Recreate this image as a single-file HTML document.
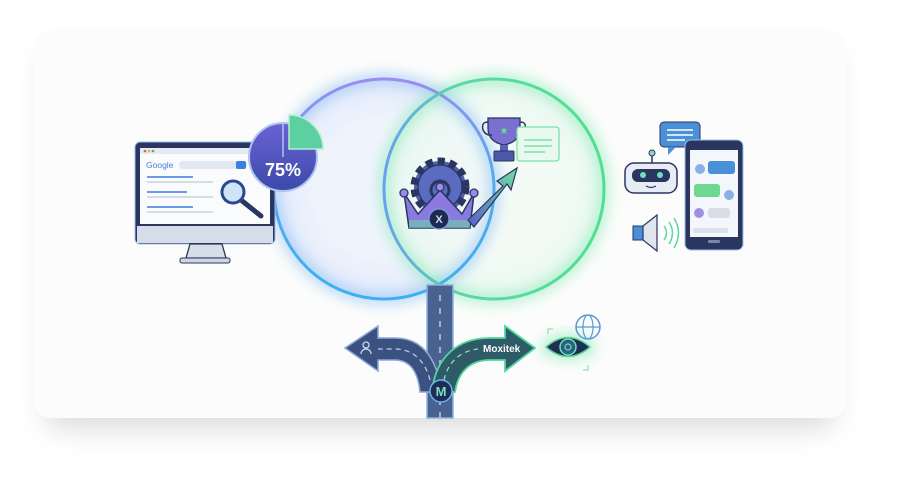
<!DOCTYPE html>
<html><head><meta charset="utf-8"><style>
html,body{margin:0;padding:0;background:#fff;width:920px;height:498px;overflow:hidden}
svg{display:block}
</style></head><body>
<svg width="920" height="498" viewBox="0 0 920 498" xmlns="http://www.w3.org/2000/svg" font-family="Liberation Sans, sans-serif">
<defs>
<filter id="sh" x="-10%" y="-10%" width="120%" height="140%"><feGaussianBlur stdDeviation="14"/></filter>
<filter id="gl" x="-30%" y="-30%" width="160%" height="160%"><feGaussianBlur stdDeviation="6"/></filter>
<radialGradient id="lf" cx="0.5" cy="0.5" r="0.5"><stop offset="0.6" stop-color="#eef3fc"/><stop offset="1" stop-color="#dfe8fb"/></radialGradient>
<radialGradient id="rf" cx="0.5" cy="0.5" r="0.5"><stop offset="0.6" stop-color="#f1faf5"/><stop offset="1" stop-color="#e2f7ec"/></radialGradient>
<linearGradient id="lc" x1="0" y1="0" x2="0" y2="1"><stop offset="0" stop-color="#9a8cf0"/><stop offset="0.4" stop-color="#5aa8f0"/><stop offset="1" stop-color="#3cb0f0"/></linearGradient>
<linearGradient id="rc" x1="0" y1="0" x2="1" y2="0"><stop offset="0" stop-color="#6aa0f0"/><stop offset="0.35" stop-color="#5cd8a8"/><stop offset="1" stop-color="#4fe08f"/></linearGradient>
<linearGradient id="pie" x1="0" y1="0" x2="0" y2="1"><stop offset="0" stop-color="#6a62d6"/><stop offset="1" stop-color="#3c4aa8"/></linearGradient>
<linearGradient id="arr" x1="0" y1="1" x2="1" y2="0"><stop offset="0" stop-color="#5c5ec8"/><stop offset="1" stop-color="#6ee0a0"/></linearGradient>
</defs>
<rect x="44" y="50" width="792" height="380" rx="18" fill="#000" opacity="0.13" filter="url(#sh)"/>
<rect x="34" y="30" width="812" height="388" rx="16" fill="#fbfcfb"/>
<!-- circles -->
<circle cx="384" cy="189" r="110" fill="url(#lf)" opacity="0.9"/>
<circle cx="494" cy="189" r="110" fill="url(#rf)" opacity="0.8"/>
<circle cx="384" cy="189" r="110" fill="none" stroke="#7fb8f5" stroke-width="12" opacity="0.5" filter="url(#gl)"/>
<circle cx="494" cy="189" r="110" fill="none" stroke="#7ee8b0" stroke-width="12" opacity="0.5" filter="url(#gl)"/>
<circle cx="384" cy="189" r="110" fill="none" stroke="url(#lc)" stroke-width="3"/>
<circle cx="494" cy="189" r="110" fill="none" stroke="url(#rc)" stroke-width="3"/>
<!-- road vertical -->
<rect x="427" y="285" width="26" height="133" fill="#4a6290"/>
<rect x="427" y="285" width="26" height="133" fill="none" stroke="#8fb0e0" stroke-width="1.5"/>
<line x1="440" y1="295" x2="440" y2="418" stroke="#b8cbe8" stroke-width="1.5" stroke-dasharray="6 7"/>
<!-- left arrow -->
<path d="M442 392 C437 362 425 338 395 338 L378 338 L378 326 L345 348 L378 371 L378 360 L395 360 C410 360 418 372 420 392 Z" fill="#3b5180" stroke="#8fa8d8" stroke-width="1.5"/>
<path d="M430 380 C425 360 412 349 395 349 L378 349" fill="none" stroke="#c0d0ea" stroke-width="1.2" stroke-dasharray="5 4"/>
<circle cx="366" cy="345" r="3" fill="none" stroke="#c8d8f0" stroke-width="1.3"/>
<path d="M361 354 a5 5 0 0 1 10 0" fill="none" stroke="#c8d8f0" stroke-width="1.3"/>
<!-- right arrow -->
<path d="M432 392 C435 360 455 338 490 338 L505 338 L505 326 L535 348 L505 371 L505 360 L490 360 C470 360 458 372 455 392 Z" fill="#2f5a68" stroke="#4fd89a" stroke-width="1.8"/>
<text x="483" y="352" font-size="10" font-weight="bold" fill="#fff">Moxitek</text>
<path d="M444 380 C448 362 460 351 478 349" fill="none" stroke="#9fe0c0" stroke-width="1.2" stroke-dasharray="5 4"/>
<circle cx="441" cy="391" r="11" fill="#1e2d55" stroke="#6fb0e8" stroke-width="1.5"/>
<text x="441" y="396" font-size="13" font-weight="bold" fill="#7ee0c0" text-anchor="middle">M</text>
<!-- eye -->
<ellipse cx="568" cy="347" rx="28" ry="14" fill="#7ee8b0" opacity="0.5" filter="url(#gl)"/>
<path d="M546 347 Q568 328 590 347 Q568 366 546 347 Z" fill="#1f2e55" stroke="#5fd0a0" stroke-width="1.5"/>
<circle cx="568" cy="347" r="8" fill="#2c5c8a" stroke="#6ee0a0" stroke-width="1.5"/>
<circle cx="568" cy="347" r="3" fill="none" stroke="#6ee0a0" stroke-width="1.2"/>
<circle cx="588" cy="327" r="12" fill="none" stroke="#5a9ad8" stroke-width="1.5"/>
<ellipse cx="588" cy="327" rx="5" ry="12" fill="none" stroke="#5a9ad8" stroke-width="1.2"/>
<line x1="576" y1="327" x2="600" y2="327" stroke="#5a9ad8" stroke-width="1.2"/>
<path d="M548 334 v-5 h5 M588 365 v5 h-5" fill="none" stroke="#8ee0b8" stroke-width="1.3"/>
<!-- monitor -->
<rect x="135" y="142" width="140" height="102" rx="5" fill="#2a3560" stroke="#9cc0ee" stroke-width="1"/>
<rect x="140" y="148" width="130" height="76" fill="#fafbfd"/>
<rect x="140" y="148" width="130" height="6" fill="#e4e9f2"/>
<circle cx="145" cy="151" r="1.3" fill="#e06050"/><circle cx="149" cy="151" r="1.3" fill="#e8b040"/><circle cx="153" cy="151" r="1.3" fill="#50b060"/>
<text x="146" y="168" font-size="8.5" fill="#4a80d8">Google</text>
<rect x="179" y="161" width="68" height="8" rx="4" fill="#e2e8f2"/>
<rect x="236" y="161" width="10" height="8" rx="2" fill="#3a80e0"/>
<g stroke-width="1.5"><line x1="147" y1="177" x2="193" y2="177" stroke="#3a7ce0"/><line x1="147" y1="182" x2="213" y2="182" stroke="#c8d2e0"/>
<line x1="147" y1="192" x2="187" y2="192" stroke="#3a7ce0"/><line x1="147" y1="197" x2="213" y2="197" stroke="#c8d2e0"/>
<line x1="147" y1="207" x2="193" y2="207" stroke="#3a7ce0"/><line x1="147" y1="212" x2="213" y2="212" stroke="#c8d2e0"/></g>
<rect x="137" y="226" width="136" height="17" fill="#d6dce8"/>
<path d="M190 244 L222 244 L226 258 L186 258 Z" fill="#d8dee8" stroke="#2a3560" stroke-width="1.3"/>
<rect x="180" y="258" width="50" height="5" rx="2" fill="#cfd6e2" stroke="#2a3560" stroke-width="1"/>
<line x1="241" y1="200" x2="261" y2="216" stroke="#2a3560" stroke-width="5" stroke-linecap="round"/>
<circle cx="233" cy="192" r="11" fill="#cfe4fa" stroke="#2a4a90" stroke-width="3"/>
<!-- pie -->
<circle cx="283" cy="157" r="34" fill="url(#pie)" stroke="#b0c4f0" stroke-width="2"/>
<path d="M289 115 A34 34 0 0 1 323 149 L289 149 Z" fill="#5cd0a0" stroke="#b8eed0" stroke-width="1.5"/>
<path d="M283 157 L283 123" stroke="#b0c4f0" stroke-width="1.5"/>
<text x="283" y="176" font-size="18" font-weight="bold" fill="#fff" text-anchor="middle">75%</text>
<!-- gear crown -->
<circle cx="440" cy="187" r="26" fill="#4d5fae" stroke="#2a3560" stroke-width="7" stroke-dasharray="7 5"/>
<circle cx="440" cy="187" r="22" fill="#5a6cc0" stroke="#2a3560" stroke-width="1.3"/>
<circle cx="440" cy="190" r="9" fill="none" stroke="#2a3560" stroke-width="3"/>
<path d="M404 193 L418 214 L440 190 L462 214 L474 193 L470 228 L409 228 Z" fill="#8a7ae0" stroke="#2a3560" stroke-width="1.5"/>
<rect x="409" y="220" width="61" height="8" fill="#6fd0a8" opacity="0.6"/>
<circle cx="404" cy="193" r="4" fill="#9a8ae8" stroke="#2a3560" stroke-width="1.3"/>
<circle cx="440" cy="187" r="4" fill="#9a8ae8" stroke="#2a3560" stroke-width="1.3"/>
<circle cx="474" cy="193" r="4" fill="#9a8ae8" stroke="#2a3560" stroke-width="1.3"/>
<circle cx="439" cy="219" r="10" fill="#1e2a50" stroke="#7aa0e0" stroke-width="1.3"/>
<text x="439" y="223" font-size="11" font-weight="bold" fill="#d0d8f0" text-anchor="middle">X</text>
<path d="M468 220 L503 186 L497 181 L517 168 L511 190 L507 184 L474 227 Z" fill="url(#arr)" stroke="#2a3560" stroke-width="1.2"/>
<!-- trophy -->
<path d="M488 118 H520 V128 Q520 142 504 145 Q488 142 488 128 Z" fill="#7a70d0" stroke="#2a3560" stroke-width="1.3"/>
<path d="M488 122 Q481 122 483 130 Q486 136 492 135 M520 122 Q527 122 525 130 Q522 136 516 135" fill="none" stroke="#2a3560" stroke-width="1.5"/>
<text x="504" y="134" font-size="10" fill="#60e090" text-anchor="middle">★</text>
<rect x="500" y="145" width="8" height="6" fill="#5a62b8"/>
<rect x="494" y="151" width="20" height="10" rx="1" fill="#4a5aa8" stroke="#2a3560" stroke-width="1"/>
<rect x="517" y="127" width="42" height="34" rx="3" fill="#e8faf0" stroke="#7ee0a8" stroke-width="1.3"/>
<g stroke="#7ee0a8" stroke-width="1.5"><line x1="524" y1="140" x2="552" y2="140"/><line x1="524" y1="146" x2="552" y2="146"/><line x1="524" y1="152" x2="545" y2="152"/></g>
<!-- robot -->
<rect x="660" y="122" width="40" height="25" rx="4" fill="#4a90d8" stroke="#2a3560" stroke-width="1"/>
<path d="M668 147 L668 155 L676 147 Z" fill="#4a90d8"/>
<g stroke="#fff" stroke-width="1.5"><line x1="667" y1="130" x2="693" y2="130"/><line x1="667" y1="135" x2="693" y2="135"/><line x1="667" y1="140" x2="685" y2="140"/></g>
<line x1="652" y1="155" x2="652" y2="163" stroke="#2a3560" stroke-width="1.5"/><circle cx="652" cy="153" r="3" fill="#8ad8c8" stroke="#2a3560"/>
<rect x="625" y="163" width="52" height="30" rx="9" fill="#e8ecf4" stroke="#2a3560" stroke-width="1.5"/>
<rect x="632" y="169" width="38" height="13" rx="6" fill="#2a3560"/>
<circle cx="643" cy="175" r="3" fill="#6ee0c0"/><circle cx="660" cy="175" r="3" fill="#6ee0c0"/>
<path d="M646 186 Q651 189 656 186" fill="none" stroke="#2a3560" stroke-width="1.2"/>
<!-- phone -->
<rect x="685" y="140" width="58" height="110" rx="6" fill="#2a3560" stroke="#9cc0ee" stroke-width="1"/>
<rect x="690" y="150" width="48" height="87" fill="#f3f6fb"/>
<rect x="708" y="161" width="27" height="13" rx="3" fill="#4a90d8"/>
<circle cx="700" cy="169" r="5" fill="#8ab0e8"/>
<rect x="694" y="184" width="26" height="13" rx="3" fill="#6ed890"/>
<circle cx="729" cy="195" r="5" fill="#8ab0e8"/>
<circle cx="699" cy="213" r="5" fill="#a090e0"/>
<rect x="708" y="208" width="22" height="10" rx="3" fill="#d8dde8"/>
<rect x="693" y="228" width="35" height="5" rx="2" fill="#dbe0ea"/>
<rect x="708" y="240" width="12" height="3" rx="1" fill="#7a86a8"/>
<!-- speaker -->
<rect x="633" y="226" width="10" height="14" fill="#4a90d8" stroke="#2a3560" stroke-width="1"/>
<path d="M643 226 L657 215 L657 251 L643 240 Z" fill="#dfe4ee" stroke="#2a3560" stroke-width="1.2"/>
<path d="M664 226 Q669 233 664 240 M669 222 Q676 233 669 244 M674 218 Q683 233 674 248" fill="none" stroke="#5ad8a0" stroke-width="1.5"/>
</svg>
</body></html>
